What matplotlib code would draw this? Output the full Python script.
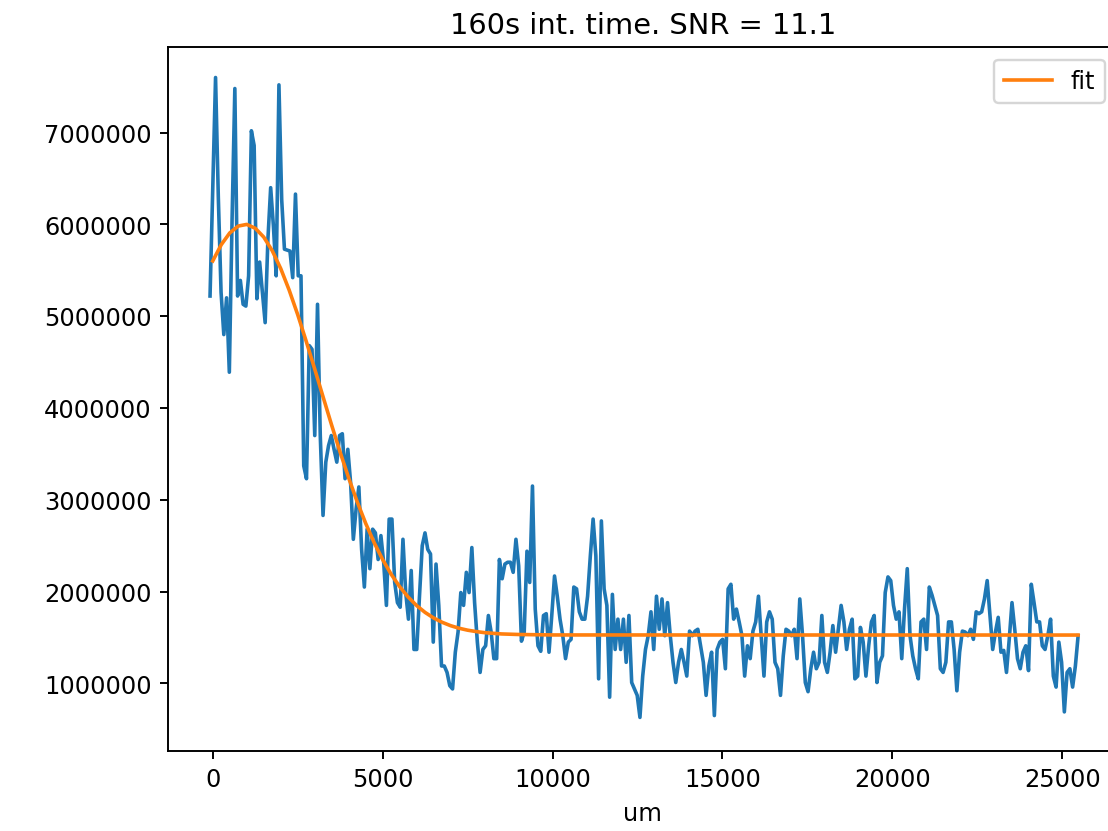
import numpy as np
import matplotlib
matplotlib.use("Agg")
import matplotlib.pyplot as plt

# measured signal (in millions of counts), sampled every STEP_UM micrometres from X0_UM
X0_UM = -80
STEP_UM = 81.1
signal_m = [
    5.22, 6.40, 7.60, 6.30, 5.26, 4.80, 5.20, 4.39, 6.06, 7.48, 5.22, 5.39, 5.13, 5.11, 5.44, 7.02,
    6.86, 5.19, 5.59, 5.26, 4.93, 5.84, 6.40, 5.98, 5.44, 7.52, 6.27, 5.73, 5.72, 5.71, 5.42, 6.33,
    5.44, 5.44,
    3.37, 3.23, 4.68, 4.64, 3.70, 5.13, 3.70, 2.83, 3.41, 3.59, 3.70, 3.55, 3.41, 3.70, 3.72, 3.23,
    3.55, 3.19, 2.57, 2.90, 3.14, 2.46,
    2.05, 2.68, 2.25, 2.68, 2.64,
    2.35, 2.61, 2.32, 1.85, 2.79, 2.79, 2.10, 1.88, 1.83, 2.57, 1.99, 1.70, 2.23, 1.37, 1.37, 1.95,
    2.50, 2.64, 2.46, 2.41, 1.45, 2.30, 1.85, 1.19, 1.19, 1.12, 0.975, 0.94, 1.34, 1.56, 1.99, 1.85,
    2.21, 1.99, 2.48, 1.88, 1.45, 1.12, 1.37, 1.41, 1.74, 1.56, 1.27, 1.27, 2.35, 2.14, 2.30, 2.32,
    2.32, 2.21, 2.57, 2.28, 1.46, 1.56, 2.44, 2.10, 3.15, 1.81, 1.41, 1.35, 1.74, 1.76, 1.34, 1.74,
    2.17, 1.95, 1.70, 1.52, 1.27, 1.45, 1.48, 2.05, 2.03, 1.78, 1.70, 1.70, 1.95, 2.39, 2.79, 2.39,
    1.05,
    2.77, 2.03, 1.85, 0.85, 1.97, 1.37, 1.70, 1.37, 1.70, 1.23, 1.74, 1.01, 0.94, 0.87, 0.63, 1.08,
    1.37, 1.52, 1.78, 1.37, 1.95, 1.59, 1.92, 1.52, 1.88, 1.52, 1.23, 1.01, 1.23, 1.37, 1.23,
    1.08, 1.57, 1.52, 1.57, 1.59, 1.41, 1.23, 0.87, 1.19, 1.34, 0.65, 1.37, 1.45, 1.48, 1.16,
    2.03, 2.08, 1.70, 1.81, 1.67, 1.52, 1.08, 1.41, 1.27, 1.57, 1.67, 1.95, 1.52, 1.08, 1.67,
    1.78, 1.70, 1.23, 1.16, 0.87, 1.30, 1.59, 1.57, 1.52, 1.59, 1.27, 1.92, 1.52, 1.01, 0.91,
    1.16, 1.34, 1.16, 1.23, 1.74, 1.23, 1.12, 1.34, 1.63, 1.34, 1.59, 1.85, 1.67, 1.37, 1.59,
    1.70,
    1.05, 1.08, 1.61, 1.45, 1.08, 1.41, 1.67, 1.74, 1.01, 1.23, 1.30, 1.99, 2.16, 2.12, 1.85, 1.70,
    1.78, 1.27, 1.81, 2.25, 1.52, 1.30, 1.16, 1.05, 1.67, 1.70, 1.37, 2.05, 1.96, 1.85, 1.74, 1.16,
    1.12, 1.23, 1.67, 1.67, 1.37, 0.92, 1.34, 1.57, 1.56, 1.52, 1.59, 1.48, 1.78, 1.76, 1.78, 1.92,
    2.12, 1.74, 1.37, 1.56, 1.72, 1.34, 1.36, 1.12, 1.48, 1.88, 1.59, 1.27, 1.16, 1.34, 1.41, 1.14,
    2.08, 1.88, 1.67, 1.67, 1.41, 1.37, 1.52, 1.70, 1.08, 0.96, 1.45, 1.23, 0.69, 1.12, 1.16, 0.96,
    1.19, 1.52,
]

# fit curve (um, millions)
fit_x = [0, 250, 500, 750, 1000, 1250, 1500, 1750, 2000, 2250, 2500, 2750, 3000, 3250, 3500,
         3750, 4000, 4250, 4500, 4750, 5000, 5250, 5500, 5750, 6000, 6250, 6500, 6750, 7000,
         7250, 7500, 7750, 8000, 8500, 9000, 10000, 25465]
fit_m = [5.602, 5.779, 5.907, 5.982, 6.000, 5.958, 5.862, 5.714, 5.519, 5.283, 5.017, 4.727,
         4.425, 4.117, 3.812, 3.517, 3.238, 2.979, 2.744, 2.533, 2.349, 2.189, 2.054, 1.941,
         1.848, 1.773, 1.713, 1.666, 1.629, 1.601, 1.580, 1.565, 1.553, 1.539, 1.533, 1.528, 1.527]

title = "160s int. time. SNR = 11.1"

x = X0_UM + np.arange(len(signal_m)) * STEP_UM
y = np.array(signal_m) * 1e6

fig = plt.figure(figsize=(6.4, 4.8), dpi=173.28)
ax = fig.add_axes([0.1518, 0.0965, 0.8555, 0.8455])

ax.plot(x, y, color="#1f77b4")
ax.plot(fit_x, np.array(fit_m) * 1e6, color="#ff7f0e", label="fit")

ax.set_xlim(-1307, 26613)
ax.set_ylim(266800, 7927000)
ax.ticklabel_format(style="plain", useOffset=False)
ax.set_title(title)
ax.set_xlabel("um")
ax.legend(loc="upper right")

fig.savefig("out.png", dpi=173.28)
